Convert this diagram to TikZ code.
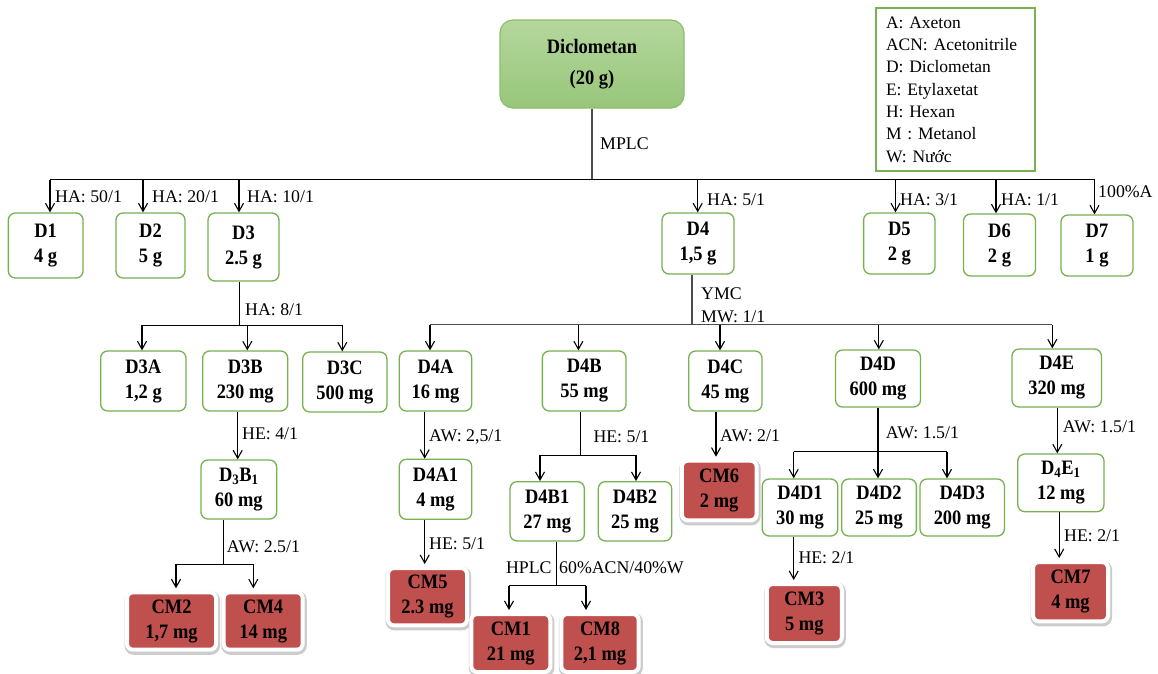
\documentclass[tikz,border=0pt]{standalone}
\usepackage{fontspec}
\setmainfont{Liberation Serif}
\newfontfamily\bxfamily[FakeStretch=0.9]{Liberation Serif}
\usetikzlibrary{arrows.meta}
\definecolor{gbord}{HTML}{77B150}
\definecolor{cmred}{HTML}{C0504D}
\definecolor{toptop}{HTML}{B5D79D}
\definecolor{topbot}{HTML}{97C67A}
\definecolor{topbord}{HTML}{8DBE6E}
\newcommand\boxfont{\bxfamily\fontsize{20.5}{25}\selectfont\bfseries}
\newcommand\labfont{\fontsize{17.8}{20}\selectfont}
\tikzset{
  gbox/.style={draw=gbord, line width=1.3pt, fill=white, rounded corners=7pt, align=center, font=\boxfont, inner sep=0pt},
  cmbox/.style={draw=white, line width=4pt, fill=cmred, rounded corners=6pt, align=center, font=\boxfont, inner sep=0pt,
    preaction={draw=black!20, line width=6.5pt, transform canvas={shift={(0.8pt,-1.8pt)}}}},
  lab/.style={font=\labfont, inner sep=0pt, anchor=west},
  conn/.style={line width=1.1pt, draw=black},
  trunk/.style={line width=1.1pt, draw=black!70},
  arr/.style={conn, -{Straight Barb[length=8pt,width=9pt,line width=1.1pt]}},
}
\begin{document}
\begin{tikzpicture}[x=1pt,y=-1pt]
\fill[white] (0,0) rectangle (1158,673);
\useasboundingbox (0,0) rectangle (1158,673);

% top node and legend
\node[draw=topbord, line width=1.2pt, top color=toptop, bottom color=topbot, rounded corners=13pt,
      minimum width=184, minimum height=88, inner sep=0pt, align=center,
      font=\bxfamily\fontsize{20.5}{31}\selectfont\bfseries] (top) at (592,64) {Diclometan\\(20 g)};
\node[draw=gbord, line width=1.3pt, minimum width=159, minimum height=163, text width=139, inner xsep=10pt,
      align=left, font=\fontsize{17.5}{22.3}\selectfont] (leg) at (955.5,89.5)
  {A: Axeton\\ACN: Acetonitrile\\D: Diclometan\\E: Etylaxetat\\H: Hexan\\M : Metanol\\W: Nước};

% level 1
\node[gbox, minimum width=74.7, minimum height=65] (d1) at (45.7,245.5) {D1\\4 g};
\node[gbox, minimum width=69, minimum height=65] (d2) at (150.5,245.5) {D2\\5 g};
\node[gbox, minimum width=71, minimum height=68] (d3) at (243.5,247) {D3\\2.5 g};
\node[gbox, minimum width=72, minimum height=61] (d4) at (698,243.5) {D4\\1,5 g};
\node[gbox, minimum width=71.4, minimum height=61] (d5) at (899.3,243.5) {D5\\2 g};
\node[gbox, minimum width=72, minimum height=62] (d6) at (999.5,245) {D6\\2 g};
\node[gbox, minimum width=72, minimum height=61] (d7) at (1097,245.5) {D7\\1 g};

% level 2
\node[gbox, minimum width=85.3, minimum height=60] (d3a) at (143.3,381) {D3A\\1,2 g};
\node[gbox, minimum width=85, minimum height=60] (d3b) at (245.2,381) {D3B\\230 mg};
\node[gbox, minimum width=84.3, minimum height=60] (d3c) at (344.8,382) {D3C\\500 mg};
\node[gbox, minimum width=72.4, minimum height=60] (d4a) at (435.5,381) {D4A\\16 mg};
\node[gbox, minimum width=83.7, minimum height=60] (d4b) at (584.2,381) {D4B\\55 mg};
\node[gbox, minimum width=73.3, minimum height=60] (d4c) at (725.3,381) {D4C\\45 mg};
\node[gbox, minimum width=85, minimum height=57] (d4d) at (878,378.5) {D4D\\600 mg};
\node[gbox, minimum width=89.4, minimum height=58] (d4e) at (1056.7,378) {D4E\\320 mg};

% level 3
\node[gbox, minimum width=75.7, minimum height=59] (d3b1) at (238.8,489.5) {D\textsubscript{3}B\textsubscript{1}\\60 mg};
\node[gbox, minimum width=72.4, minimum height=60] (d4a1) at (435.5,489.3) {D4A1\\4 mg};
\node[gbox, minimum width=74.3, minimum height=59.3] (d4b1) at (547.2,511.3) {D4B1\\27 mg};
\node[gbox, minimum width=73.4, minimum height=59.3] (d4b2) at (635,511.3) {D4B2\\25 mg};
\node[gbox, minimum width=75.5, minimum height=57] (d4d1) at (800,507.5) {D4D1\\30 mg};
\node[gbox, minimum width=74.7, minimum height=57] (d4d2) at (879,507.5) {D4D2\\25 mg};
\node[gbox, minimum width=84.4, minimum height=57] (d4d3) at (962.2,507.5) {D4D3\\200 mg};
\node[gbox, minimum width=86.2, minimum height=57.7] (d4e1) at (1060.9,482.8) {D\textsubscript{4}E\textsubscript{1}\\12 mg};

% compounds
\node[cmbox, minimum width=89, minimum height=57.4] (cm2) at (171.5,621) {CM2\\1,7 mg};
\node[cmbox, minimum width=79, minimum height=57.4] (cm4) at (263.2,621) {CM4\\14 mg};
\node[cmbox, minimum width=79, minimum height=57.3] (cm5) at (427.5,596.7) {CM5\\2.3 mg};
\node[cmbox, minimum width=79, minimum height=58] (cm1) at (510.8,643) {CM1\\21 mg};
\node[cmbox, minimum width=77.4, minimum height=58] (cm8) at (600,643) {CM8\\2,1 mg};
\node[cmbox, minimum width=74.8, minimum height=59.6] (cm6) at (719.2,490.5) {CM6\\2 mg};
\node[cmbox, minimum width=75, minimum height=59] (cm3) at (804.3,613.5) {CM3\\5 mg};
\node[cmbox, minimum width=75, minimum height=59.3] (cm7) at (1070.5,591.7) {CM7\\4 mg};

% ---- connectors: MPLC
\coordinate (b1a) at (50,179.5);
\coordinate (b1b) at (143,179.5);
\coordinate (b1c) at (239,179.5);
\coordinate (b1d) at (697.7,179.5);
\coordinate (b1e) at (895.5,179.5);
\coordinate (b1f) at (996,179.5);
\coordinate (b1g) at (1094.5,179.5);
\draw[trunk] (top.south) -- (top.south |- b1a);
\draw[conn] (b1a) -- (b1g);
\draw[arr] (b1a) -- (b1a |- d1.north);
\draw[arr] (b1b) -- (b1b |- d2.north);
\draw[arr] (b1c) -- (b1c |- d3.north);
\draw[arr] (b1d) -- (b1d |- d4.north);
\draw[arr] (b1e) -- (b1e |- d5.north);
\draw[arr] (b1f) -- (b1f |- d6.north);
\draw[arr] (b1g) -- (b1g |- d7.north);
\node[lab] (lmplc) at (600,144) {MPLC};
\node[lab] (l1) at (55,197) {HA: 50/1};
\node[lab] (l2) at (152,197) {HA: 20/1};
\node[lab] (l3) at (247,197) {HA: 10/1};
\node[lab] (l4) at (707,200) {HA: 5/1};
\node[lab] (l5) at (900,200) {HA: 3/1};
\node[lab] (l6) at (1001,200) {HA: 1/1};
\node[lab] (l7) at (1098,192) {100\%A};

% D3 split
\coordinate (b2t) at (239.3,325.3);
\coordinate (b2a) at (142,325.3);
\coordinate (b2b) at (247.3,325.3);
\coordinate (b2c) at (342.3,325.3);
\draw[conn] (b2t |- d3.south) -- (b2t);
\draw[conn] (b2a) -- (b2c);
\draw[arr] (b2a) -- (b2a |- d3a.north);
\draw[arr] (b2b) -- (b2b |- d3b.north);
\draw[arr] (b2c) -- (b2c |- d3c.north);
\node[lab] (l8) at (245,310) {HA: 8/1};

% D3B -> D3B1
\coordinate (c3b) at (237.7,411);
\draw[arr] (c3b |- d3b.south) -- (c3b |- d3b1.north);
\node[lab] (l9) at (242,434) {HE: 4/1};

% D3B1 -> CM2, CM4
\coordinate (b3t) at (223.3,564.3);
\coordinate (b3a) at (176,564.3);
\coordinate (b3b) at (253.3,564.3);
\draw[conn] (b3t |- d3b1.south) -- (b3t);
\draw[conn] (b3a) -- (b3b);
\draw[arr, shorten >=2pt] (b3a) -- (b3a |- cm2.north);
\draw[arr, shorten >=2pt] (b3b) -- (b3b |- cm4.north);
\node[lab] (l10) at (226.7,546.7) {AW: 2.5/1};

% D4 split (YMC)
\coordinate (b4t) at (692,324.5);
\coordinate (b4a) at (430,324.5);
\coordinate (b4b) at (578.4,324.5);
\coordinate (b4c) at (720,324.5);
\coordinate (b4d) at (878.8,324.5);
\coordinate (b4e) at (1052.3,324.5);
\draw[trunk] (b4t |- d4.south) -- (b4t);
\draw[trunk] (b4a) -- (b4e);
\draw[arr] (b4a) -- (b4a |- d4a.north);
\draw[arr] (b4b) -- (b4b |- d4b.north);
\draw[arr] (b4c) -- (b4c |- d4c.north);
\draw[arr] (b4d) -- (b4d |- d4d.north);
\draw[arr] (b4e) -- (b4e |- d4e.north);
\node[lab] (l11) at (701,293.3) {YMC};
\node[lab] (l12) at (701,316.5) {MW: 1/1};

% D4A -> D4A1 -> CM5
\coordinate (c4a) at (424.7,411);
\draw[arr] (c4a |- d4a.south) -- (c4a |- d4a1.north);
\node[lab] (l13) at (429,436.7) {AW: 2,5/1};
\draw[arr, shorten >=2pt] (c4a |- d4a1.south) -- (c4a |- cm5.north);
\node[lab] (l14) at (429,543.3) {HE: 5/1};

% D4B split
\coordinate (b5t) at (580.7,455.3);
\coordinate (b5a) at (540,455.3);
\coordinate (b5b) at (636,455.3);
\draw[conn] (b5t |- d4b.south) -- (b5t);
\draw[conn] (b5a) -- (b5b);
\draw[arr] (b5a) -- (b5a |- d4b1.north);
\draw[arr] (b5b) -- (b5b |- d4b2.north);
\node[lab] (l15) at (593.3,436.7) {HE: 5/1};

% D4B1 -> CM1, CM8 (HPLC)
\coordinate (b6t) at (556.7,585.7);
\coordinate (b6a) at (509,585.7);
\coordinate (b6b) at (586,585.7);
\draw[conn] (b6t |- d4b1.south) -- (b6t);
\draw[conn] (b6a) -- (b6b);
\draw[arr, shorten >=2pt] (b6a) -- (b6a |- cm1.north);
\draw[arr, shorten >=2pt] (b6b) -- (b6b |- cm8.north);
\node[lab, anchor=east] (l16) at (551.7,568) {HPLC};
\node[lab] (l17) at (559,568) {60\%ACN/40\%W};

% D4C -> CM6
\coordinate (c4c) at (716,411);
\draw[arr, shorten >=2pt] (c4c |- d4c.south) -- (c4c |- cm6.north);
\node[lab] (l18) at (720,436) {AW: 2/1};

% D4D split
\coordinate (b7t) at (878,451.7);
\coordinate (b7a) at (793.7,451.7);
\coordinate (b7c) at (947,451.7);
\draw[conn] (b7t |- d4d.south) -- (b7t);
\draw[conn] (b7a) -- (b7c);
\draw[arr] (b7a) -- (b7a |- d4d1.north);
\draw[arr] (b7t) -- (b7t |- d4d2.north);
\draw[arr] (b7c) -- (b7c |- d4d3.north);
\node[lab] (l19) at (885.7,432.7) {AW: 1.5/1};

% D4D1 -> CM3
\coordinate (c4d1) at (793.7,536);
\draw[arr, shorten >=2pt] (c4d1 |- d4d1.south) -- (c4d1 |- cm3.north);
\node[lab] (l20) at (798.3,557.7) {HE: 2/1};

% D4E -> D4E1 -> CM7
\coordinate (c4e) at (1057.3,407);
\draw[arr] (c4e |- d4e.south) -- (c4e |- d4e1.north);
\node[lab] (l21) at (1062.7,426.7) {AW: 1.5/1};
\coordinate (c4e1) at (1059.2,512);
\draw[arr, shorten >=2pt] (c4e1 |- d4e1.south) -- (c4e1 |- cm7.north);
\node[lab] (l22) at (1064,536) {HE: 2/1};
\end{tikzpicture}
\end{document}
